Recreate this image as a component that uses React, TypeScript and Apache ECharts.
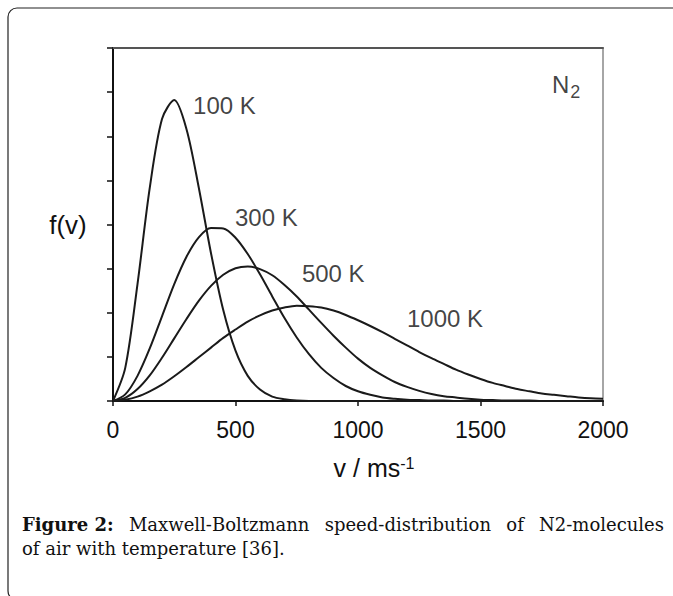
import React, { useEffect, useRef } from "react";
import * as echarts from "echarts";

// Speeds (m/s) shared by all curves
const speeds = [
  0, 50, 100, 150, 200, 250, 300, 350, 400, 450, 500, 550, 600, 650, 700, 750, 800,
  850, 900, 950, 1000, 1050, 1100, 1150, 1200, 1250, 1300, 1350, 1400, 1450, 1500,
  1550, 1600, 1650, 1700, 1750, 1800, 1850, 1900, 1950, 2000,
];

// f(v) (arbitrary units, one unit per y tick)
const f100K = [
  0, 0.75, 2.65, 4.83, 6.39, 6.82, 6.16, 4.84, 3.35, 2.06, 1.14, 0.57, 0.26, 0.1, 0.04, 0.01, 0,
  0, 0, 0, 0, 0, 0, 0, 0, 0, 0, 0, 0, 0, 0, 0, 0, 0, 0, 0, 0, 0, 0, 0, 0,
];
const f300K = [
  0, 0.15, 0.57, 1.19, 1.92, 2.65, 3.27, 3.71, 3.92, 3.91, 3.7, 3.33, 2.87, 2.37, 1.88, 1.44, 1.06,
  0.75, 0.52, 0.34, 0.22, 0.14, 0.08, 0.05, 0.03, 0.02, 0.01, 0.01, 0, 0, 0, 0, 0, 0, 0, 0, 0, 0,
  0, 0, 0,
];
const f500K = [
  0, 0.07, 0.27, 0.58, 0.98, 1.42, 1.86, 2.27, 2.61, 2.86, 3.01, 3.05, 2.99, 2.85, 2.63, 2.37, 2.07,
  1.77, 1.48, 1.21, 0.96, 0.75, 0.58, 0.43, 0.32, 0.23, 0.16, 0.11, 0.08, 0.05, 0.03, 0.02, 0.01,
  0.01, 0.01, 0, 0, 0, 0, 0, 0,
];
const f1000K = [
  0, 0.03, 0.1, 0.22, 0.37, 0.56, 0.77, 0.99, 1.21, 1.43, 1.62, 1.8, 1.94, 2.05, 2.12, 2.16, 2.15,
  2.12, 2.05, 1.95, 1.83, 1.7, 1.56, 1.41, 1.26, 1.11, 0.97, 0.84, 0.71, 0.6, 0.5, 0.41, 0.34,
  0.27, 0.22, 0.17, 0.14, 0.11, 0.08, 0.06, 0.05,
];

const seriesNames = ["100 K", "300 K", "500 K", "1000 K"];
const seriesValues = [f100K, f300K, f500K, f1000K];

// axis ranges
const xMin = 0;
const xMax = 2000;
const xStep = 500;
const yMin = 0;
const yMax = 8;
const yStep = 1;

// In-plot labels (anchor: left edge / vertical middle, in data units)
const labelTexts = ["100 K", "300 K", "500 K", "1000 K"];
const labelSpeeds = [327, 498, 771, 1200];
const labelHeights = [6.69, 4.15, 2.9, 1.88];
const gasTexts = ["N", "2"];
const gasSpeeds = [1792, 1866];
const gasHeights = [7.18, 7.0];
const gasSizes = [24, 18];

const captionLine1 = ["Figure 2:", "Maxwell-Boltzmann", "speed-distribution", "of", "N2-molecules"];
const captionLine2 = "of air with temperature [36].";

const SANS = "'Liberation Sans', Arial, sans-serif";
const SERIF = "'DejaVu Serif', serif";

export default function App() {
  const ref = useRef<HTMLDivElement>(null);

  useEffect(() => {
    if (!ref.current) return;
    const chart = echarts.init(ref.current, undefined, { renderer: "svg" });

    // justify caption line 1 between x=22 and x=664
    const capSize = 18;
    const cvs = document.createElement("canvas");
    const ctx = cvs.getContext("2d")!;
    const widths = captionLine1.map((w, i) => {
      ctx.font = `${i === 0 ? "bold " : ""}${capSize}px ${SERIF}`;
      return ctx.measureText(w).width;
    });
    const left = 22;
    const right = 664;
    const total = widths.reduce((a, b) => a + b, 0);
    const gap = (right - left - total) / (captionLine1.length - 1);
    let cx = left;
    const line1Els: any[] = captionLine1.map((w, i) => {
      const el = {
        type: "text",
        x: cx,
        y: 524,
        style: {
          text: w,
          fontSize: capSize,
          fontFamily: SERIF,
          fontWeight: i === 0 ? "bold" : "normal",
          fill: "#111",
          align: "left",
          verticalAlign: "middle",
        },
      };
      cx += widths[i] + gap;
      return el;
    });

    const lineSeries = seriesValues.map((vals, k) => ({
      name: seriesNames[k],
      type: "line",
      data: speeds.map((v, i) => [v, vals[i]]),
      smooth: 0.3,
      showSymbol: false,
      symbol: "none",
      lineStyle: { color: "#1a1a1a", width: 2 },
      z: 3,
    }));

    const labelStyle = {
      show: true,
      position: "right",
      distance: 0,
      fontSize: 24,
      fontFamily: SANS,
      color: "#111",
    };

    chart.setOption({
      animation: false,
      backgroundColor: "#fff",
      grid: { left: 113, right: 70, top: 48, bottom: 195, containLabel: false },
      xAxis: [
        {
          type: "value",
          position: "bottom",
          min: xMin,
          max: xMax,
          interval: xStep,
          axisLine: { show: true, onZero: false, lineStyle: { color: "#111", width: 2 } },
          axisTick: { show: true, length: 5, lineStyle: { color: "#111", width: 1.5 } },
          axisLabel: {
            fontSize: 23,
            fontFamily: SANS,
            color: "#111",
            margin: 17,
            formatter: (v: number) => String(v),
          },
          splitLine: { show: false },
          name: "{a|v / ms}{b|-1}",
          nameLocation: "middle",
          nameGap: 54,
          nameTextStyle: {
            align: "center",
            padding: [0, 0, 0, 32],
            rich: {
              a: { fontSize: 25, fontFamily: SANS, color: "#111" },
              b: { fontSize: 16, fontFamily: SANS, color: "#111", verticalAlign: "top" },
            },
          },
        },
        {
          type: "value",
          position: "top",
          min: xMin,
          max: xMax,
          interval: xStep,
          axisLine: { show: true, onZero: false, lineStyle: { color: "#555", width: 2 } },
          axisTick: { show: false },
          axisLabel: { show: false },
          splitLine: { show: false },
        },
      ],
      yAxis: [
        {
          type: "value",
          position: "left",
          min: yMin,
          max: yMax,
          interval: yStep,
          axisLine: { show: true, onZero: false, lineStyle: { color: "#111", width: 2 } },
          axisTick: { show: true, length: 6, lineStyle: { color: "#111", width: 1.5 } },
          axisLabel: { show: false },
          splitLine: { show: false },
          name: "f(v)",
          nameLocation: "middle",
          nameGap: 45,
          nameRotate: 0,
          nameTextStyle: {
            align: "center",
            verticalAlign: "middle",
            fontSize: 26,
            fontFamily: SANS,
            color: "#111",
          },
        },
        {
          type: "value",
          position: "right",
          min: yMin,
          max: yMax,
          interval: yStep,
          axisLine: { show: true, onZero: false, lineStyle: { color: "#888", width: 1.5 } },
          axisTick: { show: false },
          axisLabel: { show: false },
          splitLine: { show: false },
        },
      ],
      series: [
        ...lineSeries,
        {
          name: "labels",
          type: "scatter",
          symbolSize: 0,
          data: labelTexts.map((t, i) => ({ value: [labelSpeeds[i], labelHeights[i]], name: t })),
          label: { ...labelStyle, formatter: (p: any) => p.name },
          silent: true,
          z: 5,
        },
        {
          name: "gas",
          type: "scatter",
          symbolSize: 0,
          data: gasTexts.map((t, i) => ({
            value: [gasSpeeds[i], gasHeights[i]],
            name: t,
            label: { fontSize: gasSizes[i] },
          })),
          label: { ...labelStyle, formatter: (p: any) => p.name },
          silent: true,
          z: 5,
        },
      ],
      graphic: [
        {
          type: "rect",
          shape: { x: 8, y: 8, width: 700, height: 592, r: 9 },
          style: { fill: "none", stroke: "#222", lineWidth: 1.2 },
          silent: true,
          z: -1,
        },
        ...line1Els,
        {
          type: "text",
          x: left,
          y: 548,
          style: {
            text: captionLine2,
            fontSize: capSize,
            fontFamily: SERIF,
            fill: "#111",
            align: "left",
            verticalAlign: "middle",
          },
        },
      ],
    });

    return () => chart.dispose();
  }, []);

  return (
    <div
      ref={ref}
      style={{ position: "fixed", left: 0, top: 0, width: 673, height: 596, background: "#fff" }}
    />
  );
}
